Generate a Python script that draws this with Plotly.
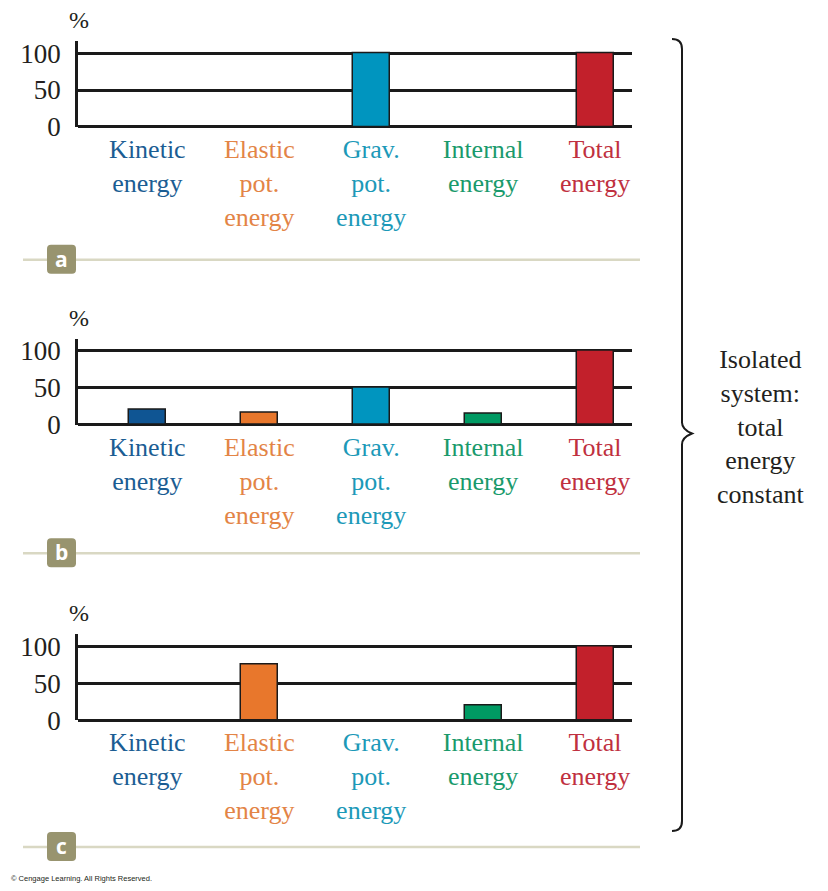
import plotly.graph_objects as go

# ---------------- data ----------------
categories = ["Kinetic<br>energy", "Elastic<br>pot.<br>energy", "Grav.<br>pot.<br>energy",
              "Internal<br>energy", "Total<br>energy"]
panel_letters = ["a", "b", "c"]
values_a = [0, 0, 100, 0, 100]
values_b = [20, 16, 50, 15, 100]
values_c = [0, 76, 0, 20, 100]
panel_values = [values_a, values_b, values_c]
y_ticks = [0, 50, 100]
y_tick_labels = ["0", "50", "100"]
side_note = "Isolated<br>system:<br>total<br>energy<br>constant"
credit = "© Cengage Learning. All Rights Reserved."

bar_colors = ["#0f5593", "#e8772c", "#0095bf", "#009a63", "#c2202b"]
label_colors = ["#1b5d93", "#e38446", "#1c99b8", "#1a9a6c", "#c03040"]

# page keeps the default 8px body margin; the captured page area is 828 x 907
M = 8
W, H = 812, 891
S = (H + 2 * M) / 891.0  # captured-page height / picture height
SERIF = "Liberation Serif, Times New Roman, serif"


def px_x(p):
    return (p - M) / W


def px_y(p):
    return 1 - (p * S - M) / H


fig = go.Figure()

# panel geometry (picture-pixel positions of y=0 baseline)
zero_px = [125, 423, 719]
sep_px = [258, 552, 846]
unit = 0.74  # px per %
y_lo, y_hi = -0.5, 116
x_left, x_right = 78, 632

ticktext = [f'<span style="color:{c}">{t}</span>' for t, c in zip(categories, label_colors)]

for i, vals in enumerate(panel_values):
    ax = "" if i == 0 else str(i + 1)
    z = zero_px[i]
    bottom = z - y_lo * unit
    top = z - y_hi * unit
    fig.add_trace(go.Bar(
        x=list(range(len(categories))), y=vals,
        marker=dict(color=bar_colors, line=dict(color="#1a1a1a", width=1.5)),
        width=0.33, xaxis="x" + ax, yaxis="y" + ax, showlegend=False,
        hoverinfo="skip",
    ))
    fig.layout["xaxis" + ax] = dict(
        domain=[px_x(x_left), px_x(x_right)], anchor="y" + ax,
        range=[-0.62, 4.33], tickmode="array",
        tickvals=list(range(len(categories))), ticktext=ticktext,
        showgrid=False, zeroline=False, showline=False, ticks="",
        tickfont=dict(family=SERIF, size=26), ticklabelstandoff=4,
        fixedrange=True,
    )
    fig.layout["yaxis" + ax] = dict(
        domain=[px_y(bottom), px_y(top)], anchor="x" + ax,
        range=[y_lo, y_hi], tickmode="array", tickvals=y_ticks, ticktext=y_tick_labels,
        showgrid=True, gridcolor="#1a1a1a", gridwidth=2.5,
        zeroline=True, zerolinecolor="#1a1a1a", zerolinewidth=2.5,
        showline=True, linecolor="#1a1a1a", linewidth=2.5,
        ticks="", ticklabelstandoff=9,
        tickfont=dict(family=SERIF, size=27, color="#231f20"),
        fixedrange=True,
    )
    # percent sign
    fig.add_annotation(xref="paper", yref="paper", x=px_x(79), y=px_y(z - 107),
                       text="%", showarrow=False, xanchor="center", yanchor="middle",
                       font=dict(family=SERIF, size=24, color="#231f20"))
    # separator line
    s = sep_px[i]
    fig.add_shape(type="line", xref="paper", yref="paper",
                  x0=px_x(23), x1=px_x(640), y0=px_y(s), y1=px_y(s),
                  line=dict(color="#d9d8c3", width=2.5), layer="below")
    # badge
    bx0, bx1, by0, by1 = 47, 76, s - 15, s + 14
    r = 4
    path = (f"M {px_x(bx0 + r)} {px_y(by0)} L {px_x(bx1 - r)} {px_y(by0)} "
            f"Q {px_x(bx1)} {px_y(by0)} {px_x(bx1)} {px_y(by0 + r)} "
            f"L {px_x(bx1)} {px_y(by1 - r)} Q {px_x(bx1)} {px_y(by1)} {px_x(bx1 - r)} {px_y(by1)} "
            f"L {px_x(bx0 + r)} {px_y(by1)} Q {px_x(bx0)} {px_y(by1)} {px_x(bx0)} {px_y(by1 - r)} "
            f"L {px_x(bx0)} {px_y(by0 + r)} Q {px_x(bx0)} {px_y(by0)} {px_x(bx0 + r)} {px_y(by0)} Z")
    fig.add_shape(type="path", xref="paper", yref="paper", path=path,
                  fillcolor="#98946f", line=dict(width=0))
    fig.add_annotation(xref="paper", yref="paper", x=px_x((bx0 + bx1) / 2), y=px_y(s - 1),
                       text=f"<b>{panel_letters[i]}</b>", showarrow=False,
                       xanchor="center", yanchor="middle",
                       font=dict(family="Open Sans, DejaVu Sans, sans-serif", size=21, color="white"))

# brace
bx = 682
top_y, tip_y, bot_y = 37, 432, 830
brace = (f"M {px_x(672)} {px_y(top_y)} Q {px_x(bx)} {px_y(top_y)} {px_x(bx)} {px_y(top_y + 10)} "
         f"L {px_x(bx)} {px_y(tip_y - 11)} Q {px_x(bx)} {px_y(tip_y - 4)} {px_x(bx + 10)} {px_y(tip_y)} "
         f"Q {px_x(bx)} {px_y(tip_y + 4)} {px_x(bx)} {px_y(tip_y + 11)} "
         f"L {px_x(bx)} {px_y(bot_y - 10)} Q {px_x(bx)} {px_y(bot_y)} {px_x(672)} {px_y(bot_y)}")
fig.add_shape(type="path", xref="paper", yref="paper", path=brace,
              line=dict(color="#1a1a1a", width=2))

fig.add_annotation(xref="paper", yref="paper", x=px_x(760), y=px_y(425),
                   text=side_note, showarrow=False, xanchor="center", yanchor="middle",
                   align="center", font=dict(family=SERIF, size=26, color="#231f20"))

fig.add_annotation(xref="paper", yref="paper", x=px_x(9), y=px_y(878),
                   text=credit, showarrow=False, xanchor="left", yanchor="middle",
                   font=dict(family="Liberation Sans, Arial, sans-serif", size=7.5, color="#231f20"))

fig.update_layout(width=W, height=H, margin=dict(l=0, r=0, t=0, b=0),
                  paper_bgcolor="white", plot_bgcolor="white", bargap=0)

fig.write_html("out.html", config={"displayModeBar": False})
